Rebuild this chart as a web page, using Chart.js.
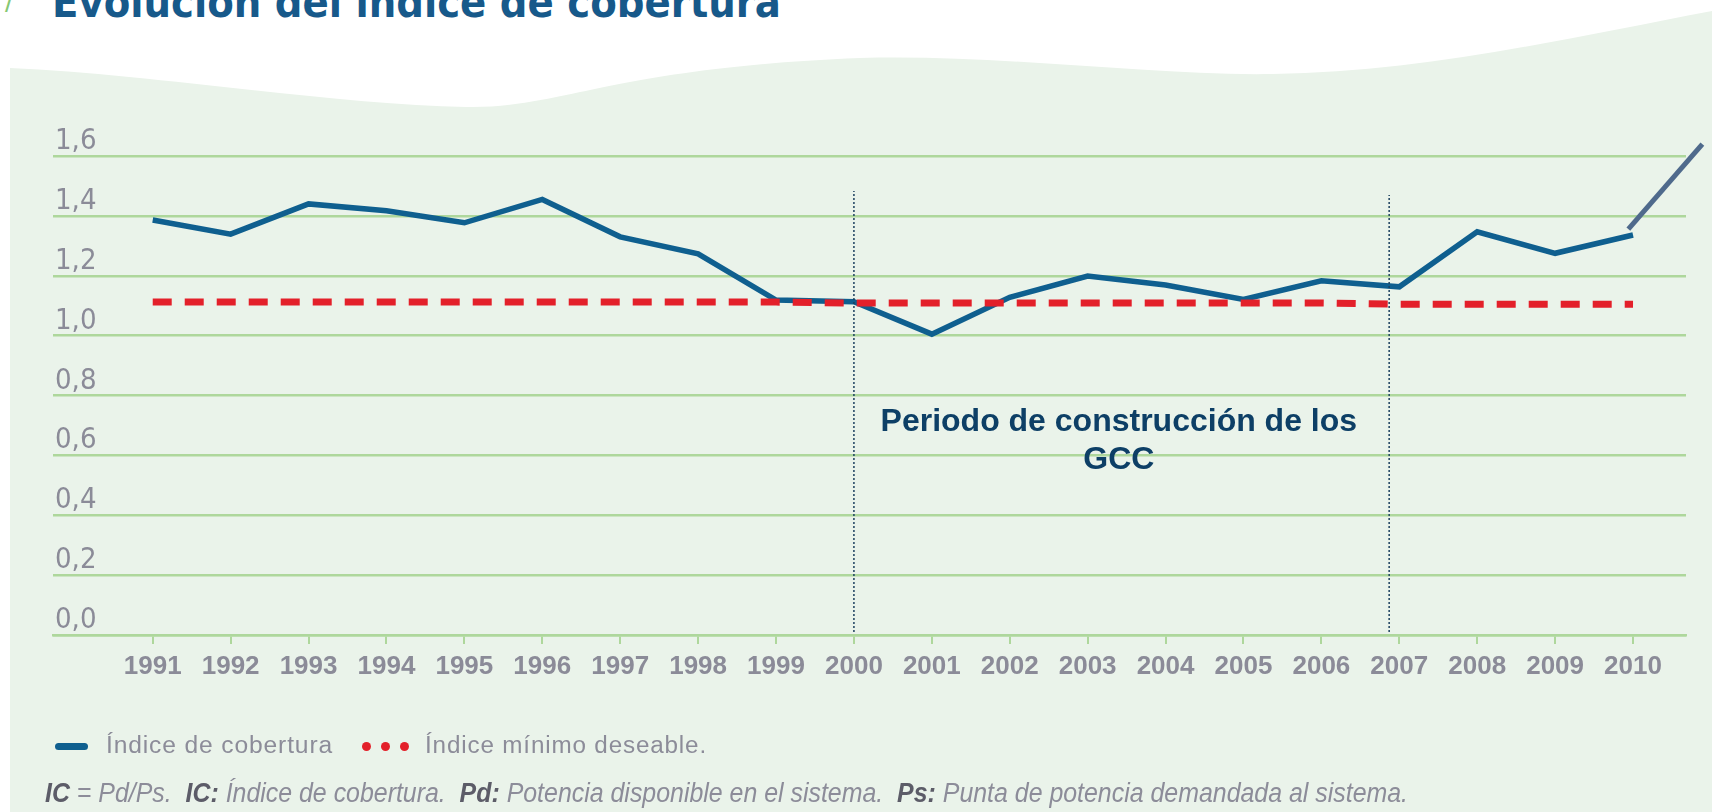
<!DOCTYPE html>
<html>
<head>
<meta charset="utf-8">
<script src="https://cdn.jsdelivr.net/npm/chart.js@4.4.1/dist/chart.umd.min.js"></script>
<style>
  html, body { margin: 0; padding: 0; background: #fff; width: 1712px; height: 812px; overflow: hidden; }
  body { position: relative; }
  #bg { position: absolute; left: 0; top: 0; }
  #c { position: absolute; left: 0; top: 0; }
  #slash { position: absolute; left: 5px; top: -14px; font: 26px "DejaVu Sans"; color: #86c873; }
  #title { position: absolute; left: 52px; top: -19px; font: bold 43px "DejaVu Sans Condensed", "DejaVu Sans", sans-serif; line-height: 43px; color: #17598a; white-space: nowrap; }
  .lt { position: absolute; top: 734px; font: 23px "Liberation Sans", Arial, sans-serif; line-height: 23px; color: #8c8c99; letter-spacing: 0.8px; white-space: nowrap; transform-origin: 0 0; }
  #pill { position: absolute; left: 55px; top: 743px; width: 33px; height: 7px; border-radius: 4px; background: #0f5f8f; }
  .dot { position: absolute; top: 742px; width: 9px; height: 9px; border-radius: 50%; background: #e3202a; }
  #note { position: absolute; left: 45px; top: 780px; font: italic 27px "Liberation Sans", Arial, sans-serif; line-height: 27px; color: #8c8c99; white-space: nowrap; transform-origin: 0 0; }
  #note b { color: #5c5c68; }
</style>
</head>
<body>
<svg id="bg" width="1712" height="812">
  <path d="M10 68 C150 74, 330 104, 466 107 C560 109, 610 68, 860 58 C1000 54, 1150 76, 1273 74 C1420 72, 1560 40, 1712 11 L1712 812 L10 812 Z" fill="#eaf3ea"/>
</svg>
<div id="slash">/</div>
<div id="title">Evolución del índice de cobertura</div>
<canvas id="c" width="1712" height="812"></canvas>
<div id="pill"></div>
<div class="lt" id="lg1" style="left:106px">Índice de cobertura</div>
<div class="dot" style="left:362px"></div>
<div class="dot" style="left:381px"></div>
<div class="dot" style="left:400px"></div>
<div class="lt" id="lg2" style="left:425px">Índice mínimo deseable.</div>
<div id="note"><b>IC</b> = Pd/Ps.&nbsp; <b>IC:</b> Índice de cobertura.&nbsp; <b>Pd:</b> Potencia disponible en el sistema.&nbsp; <b>Ps:</b> Punta de potencia demandada al sistema.</div>
<script>
const years = [1991, 1992, 1993, 1994, 1995, 1996, 1997, 1998, 1999, 2000,
  2001, 2002, 2003, 2004, 2005, 2006, 2007, 2008, 2009, 2010];
const cobertura = [1.386, 1.339, 1.440, 1.417, 1.377, 1.455, 1.330, 1.273, 1.119, 1.113,
  1.005, 1.128, 1.199, 1.169, 1.121, 1.183, 1.163, 1.347, 1.275, 1.336];
const minimo = [1.112, 1.112, 1.112, 1.112, 1.112, 1.112, 1.112, 1.112, 1.112, 1.109,
  1.109, 1.109, 1.109, 1.109, 1.109, 1.109, 1.105, 1.105, 1.105, 1.105];
const yTicks = [0, 0.2, 0.4, 0.6, 0.8, 1.0, 1.2, 1.4, 1.6];
// dotted lines marking the GCC building period
const periodYears = [2000, 2006.87];
const periodTops = [1.483, 1.47];
// stray pointer stroke at the right edge
const pointerX = [2009.94, 2010.89];
const pointerY = [1.356, 1.64];
const periodLabel = ["Periodo de construcción de los", "GCC"];

const green = "#aed79c";
const gray = "#8b8b98";

// squeeze/stretch the html texts to the widths they have in the picture
function fitWidth(id, w) {
  const el = document.getElementById(id);
  el.style.transform = "scaleX(" + (w / el.getBoundingClientRect().width) + ")";
}
fitWidth("lg1", 227);
fitWidth("lg2", 282);
fitWidth("note", 1363);

const periodText = {
  id: "periodText",
  afterDatasetsDraw(chart) {
    const { ctx, scales: { x, y } } = chart;
    ctx.save();
    ctx.font = 'bold 32px "Liberation Sans", Arial, sans-serif';
    ctx.fillStyle = "#0d3f66";
    ctx.textAlign = "center";
    ctx.textBaseline = "middle";
    const cx = x.getPixelForValue(2003.4);
    ctx.fillText(periodLabel[0], cx, y.getPixelForValue(0.710));
    ctx.fillText(periodLabel[1], cx, y.getPixelForValue(0.583));
    ctx.restore();
  }
};

const datasets = [
  {
    label: "Índice de cobertura",
    data: years.map((yr, i) => ({ x: yr, y: cobertura[i] })),
    borderColor: "#0f5f8f",
    borderWidth: 5.5,
    pointRadius: 0,
    order: 3
  },
  {
    label: "Índice mínimo deseable",
    data: years.map((yr, i) => ({ x: yr, y: minimo[i] })),
    borderColor: "#e3202a",
    borderWidth: 7,
    borderDash: [19, 13],
    pointRadius: 0,
    order: 1
  },
  {
    label: "pointer",
    data: pointerX.map((v, i) => ({ x: v, y: pointerY[i] })),
    borderColor: "#4f6a8c",
    borderWidth: 5,
    pointRadius: 0,
    clip: false,
    order: 2
  }
];
periodYears.forEach((yr, i) => {
  datasets.push({
    label: "period" + i,
    data: [{ x: yr, y: 0.01 }, { x: yr, y: periodTops[i] }],
    borderColor: "#1b3f5e",
    borderWidth: 1.5,
    borderDash: [2, 2],
    pointRadius: 0,
    order: 0
  });
});

new Chart(document.getElementById("c"), {
  type: "line",
  data: { datasets },
  options: {
    responsive: false,
    animation: false,
    layout: { padding: { left: 53, right: 26, top: 156, bottom: 127 } },
    plugins: { legend: { display: false }, tooltip: { enabled: false } },
    scales: {
      x: {
        type: "linear",
        min: 1989.72,
        max: 2010.68,
        afterBuildTicks: (s) => { s.ticks = years.map((v) => ({ value: v })); },
        afterFit: (s) => { s.height = 50; },
        grid: { drawOnChartArea: false, color: green, lineWidth: 2, tickLength: 9 },
        border: { color: green, width: 2.5 },
        ticks: {
          callback: (v) => String(v),
          font: { family: '"Liberation Sans", Arial, sans-serif', size: 26, weight: "bold" },
          color: gray,
          padding: 7,
          maxRotation: 0,
          autoSkip: false
        }
      },
      y: {
        min: 0,
        max: 1.6,
        afterBuildTicks: (s) => { s.ticks = yTicks.map((v) => ({ value: v })); },
        afterFit: (s) => { s.width = 0; },
        grid: { color: green, lineWidth: 2.5, drawTicks: false },
        border: { display: false },
        ticks: {
          mirror: true,
          padding: 2,
          labelOffset: -14.5,
          callback: (v) => v.toFixed(1).replace(".", ","),
          font: { family: '"DejaVu Sans Condensed", "DejaVu Sans", sans-serif', size: 29 },
          color: gray
        }
      }
    }
  },
  plugins: [periodText]
});
</script>
</body>
</html>
